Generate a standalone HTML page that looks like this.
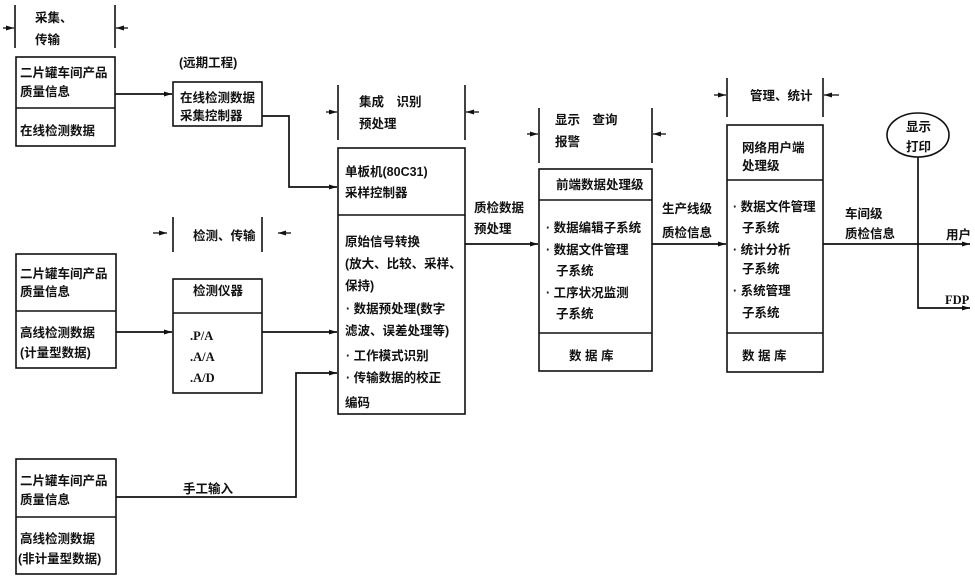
<!DOCTYPE html>
<html><head><meta charset="utf-8">
<style>
html,body{margin:0;padding:0;background:#fff;}
svg{display:block;}
text{font-family:"Liberation Sans","Noto Sans CJK SC","WenQuanYi Zen Hei",sans-serif;font-size:12.5px;font-weight:bold;fill:#111;}
.s{font-family:"Liberation Serif","Noto Serif CJK SC",serif;}
</style></head>
<body>
<svg width="975" height="579" viewBox="0 0 975 579" xmlns="http://www.w3.org/2000/svg">
<defs>
<marker id="a" markerWidth="8" markerHeight="6" refX="8" refY="3" orient="auto" markerUnits="userSpaceOnUse">
<path d="M0,0.5 L8,3 L0,5.5 Z" fill="#111"/>
</marker>
</defs>
<g fill="none" stroke="#111" stroke-width="1.6">
<rect x="16" y="57" width="99" height="89"/><line x1="16" y1="108" x2="115" y2="108"/>
<rect x="173" y="82" width="89" height="44"/>
<rect x="16" y="254" width="100" height="114"/><line x1="16" y1="311" x2="116" y2="311"/>
<rect x="173" y="279" width="89" height="114"/><line x1="173" y1="313" x2="262" y2="313"/>
<rect x="16" y="459" width="100" height="115"/><line x1="16" y1="517" x2="116" y2="517"/>
<rect x="338" y="148" width="127" height="266"/><line x1="338" y1="215" x2="465" y2="215"/>
<rect x="539" y="169" width="113" height="202"/><line x1="539" y1="200" x2="652" y2="200"/><line x1="539" y1="333" x2="652" y2="333"/>
<rect x="727" y="125" width="96" height="247"/><line x1="727" y1="180" x2="823" y2="180"/><line x1="727" y1="333" x2="823" y2="333"/>
<ellipse cx="918" cy="135" rx="31" ry="22"/>
<line x1="15" y1="5" x2="15" y2="48"/><line x1="115" y1="5" x2="115" y2="48"/>
<line x1="173" y1="217" x2="173" y2="252"/><line x1="262" y1="217" x2="262" y2="252"/>
<line x1="338" y1="85" x2="338" y2="140"/><line x1="465" y1="85" x2="465" y2="140"/>
<line x1="539" y1="108" x2="539" y2="163"/><line x1="652" y1="108" x2="652" y2="163"/>
<line x1="727" y1="78" x2="727" y2="117"/><line x1="823" y1="78" x2="823" y2="117"/>
</g>
<g fill="none" stroke="#111" stroke-width="1.3">
<line x1="3" y1="28" x2="14" y2="28" marker-end="url(#a)"/><line x1="128" y1="28" x2="116" y2="28" marker-end="url(#a)"/>
<line x1="153" y1="233" x2="167" y2="233" marker-end="url(#a)"/><line x1="291" y1="233" x2="278" y2="233" marker-end="url(#a)"/>
<line x1="326" y1="112" x2="337" y2="112" marker-end="url(#a)"/><line x1="479" y1="112" x2="466" y2="112" marker-end="url(#a)"/>
<line x1="527" y1="134" x2="538" y2="134" marker-end="url(#a)"/><line x1="666" y1="134" x2="653" y2="134" marker-end="url(#a)"/>
<line x1="714" y1="95" x2="726" y2="95" marker-end="url(#a)"/><line x1="839" y1="95" x2="824" y2="95" marker-end="url(#a)"/>
</g>
<g fill="none" stroke="#111" stroke-width="1.7">
<path d="M115 94 H172" marker-end="url(#a)"/>
<path d="M262 116 H289 V187 H337" marker-end="url(#a)"/>
<path d="M116 332 H172" marker-end="url(#a)"/>
<path d="M262 332 H337" marker-end="url(#a)"/>
<path d="M116 497 H296 V373 H337" marker-end="url(#a)"/>
<path d="M465 244 H538" marker-end="url(#a)"/>
<path d="M652 244 H726" marker-end="url(#a)"/>
<path d="M823 244 H970" marker-end="url(#a)"/>
<path d="M918 157 V308 H970" marker-end="url(#a)"/>
</g>
<text x="35" y="22">采集、</text>
<text x="35" y="44">传输</text>
<text x="20" y="77">二片罐车间产品</text>
<text x="20" y="96">质量信息</text>
<text x="20" y="135">在线检测数据</text>
<text x="179" y="67">(远期工程)</text>
<text x="180" y="102">在线检测数据</text>
<text x="180" y="120">采集控制器</text>

<text x="193" y="240">检测、传输</text>
<text x="20" y="278">二片罐车间产品</text>
<text x="20" y="296">质量信息</text>
<text x="20" y="337">高线检测数据</text>
<text x="20" y="357">(计量型数据)</text>
<text x="193" y="295">检测仪器</text>
<text class="s" x="190" y="340">.P/A</text>
<text class="s" x="190" y="361">.A/A</text>
<text class="s" x="190" y="382">.A/D</text>

<text x="20" y="485">二片罐车间产品</text>
<text x="20" y="504">质量信息</text>
<text x="20" y="543">高线检测数据</text>
<text x="18" y="563">(非计量型数据)</text>
<text x="183" y="493">手工输入</text>

<text x="359" y="106">集成　识别</text>
<text x="359" y="128">预处理</text>
<text x="345" y="176">单板机(80C31)</text>
<text x="345" y="197">采样控制器</text>
<text x="345" y="246">原始信号转换</text>
<text x="345" y="268">(放大、比较、采样、</text>
<text x="345" y="290">保持)</text>
<text x="346" y="313">· 数据预处理(数字</text>
<text x="345" y="335">滤波、误差处理等)</text>
<text x="346" y="360">· 工作模式识别</text>
<text x="346" y="382">· 传输数据的校正</text>
<text x="345" y="407">编码</text>
<text x="474" y="212">质检数据</text>
<text x="474" y="233">预处理</text>

<text x="555" y="124">显示　查询</text>
<text x="555" y="146">报警</text>
<text x="556" y="189">前端数据处理级</text>
<text x="546" y="232">· 数据编辑子系统</text>
<text x="546" y="254">· 数据文件管理</text>
<text x="556" y="275">子系统</text>
<text x="546" y="297">· 工序状况监测</text>
<text x="556" y="318">子系统</text>
<text x="569" y="360">数 据 库</text>
<text x="662" y="213">生产线级</text>
<text x="662" y="237">质检信息</text>

<text x="750" y="100">管理、统计</text>
<text x="742" y="152">网络用户端</text>
<text x="742" y="170">处理级</text>
<text x="733" y="211">· 数据文件管理</text>
<text x="742" y="232">子系统</text>
<text x="733" y="254">· 统计分析</text>
<text x="742" y="273">子系统</text>
<text x="733" y="295">· 系统管理</text>
<text x="742" y="317">子系统</text>
<text x="742" y="360">数 据 库</text>
<text x="845" y="218">车间级</text>
<text x="845" y="238">质检信息</text>
<text x="906" y="131">显示</text>
<text x="906" y="151">打印</text>
<text x="946" y="239">用户</text>
<text class="s" x="945" y="304">FDP</text>
</svg>
</body></html>
